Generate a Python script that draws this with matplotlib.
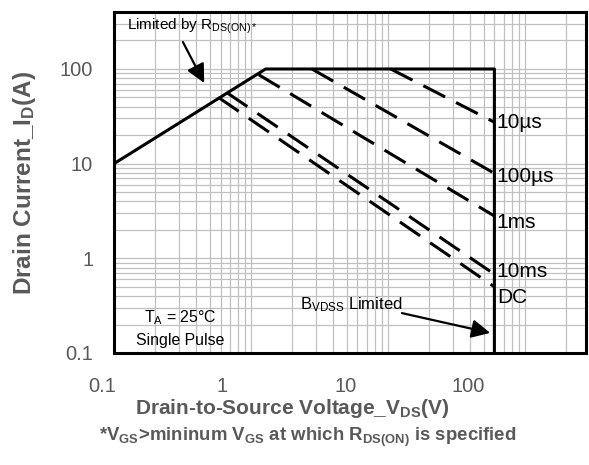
import numpy as np
import matplotlib as mpl
mpl.use("Agg")
import matplotlib.pyplot as plt
from matplotlib.ticker import FixedLocator, LogLocator, NullFormatter
from matplotlib.transforms import ScaledTranslation

mpl.rcParams.update({
    "font.family": ["Liberation Sans", "DejaVu Sans"],
    "mathtext.fontset": "custom",
    "mathtext.rm": "Liberation Sans",
    "mathtext.it": "Liberation Sans:italic",
    "mathtext.bf": "Liberation Sans:bold",
})

GRAY = "#595959"
GRID = "#c0c0c0"

# safe operating area boundary (V, A)
limit_v = [0.1, 1.28, 60, 60]
limit_i = [10, 100, 100, 0.1]

# pulse-width lines: start / end points
pulse_names = ["10µs", "100µs", "1ms", "10ms", "DC"]
pulse_v = [[10.5, 60], [2.79, 60], [1.14, 60], [0.67, 60], [0.58, 60]]
pulse_i = [[100, 27.4], [100, 7.9], [87, 2.8], [56, 0.68], [50, 0.5]]
label_i = [27.4, 7.3, 2.4, 0.72, 0.39]

x_ticks = [0.1, 1, 10, 100]
x_ticklabels = ["0.1", "1", "10", "100"]
y_ticks = [0.1, 1, 10, 100]
y_ticklabels = ["0.1", "1", "10", "100"]

fig = plt.figure(figsize=(5.89, 4.65), dpi=100)
ax = fig.add_axes([114 / 589, 1 - 353 / 465, 472 / 589, 341 / 465])
ax.set_xscale("log")
ax.set_yscale("log")
ax.set_xlim(0.1, 280)
ax.set_ylim(0.1, 400)

ax.xaxis.set_major_locator(FixedLocator(x_ticks))
ax.yaxis.set_major_locator(FixedLocator(y_ticks))
ax.xaxis.set_minor_locator(LogLocator(base=10, subs=np.arange(2, 10)))
ax.yaxis.set_minor_locator(LogLocator(base=10, subs=np.arange(2, 10)))
ax.xaxis.set_minor_formatter(NullFormatter())
ax.yaxis.set_minor_formatter(NullFormatter())
ax.set_xticklabels(x_ticklabels)
ax.set_yticklabels(y_ticklabels)
ax.tick_params(which="both", length=0, labelsize=14.5, labelcolor=GRAY)
ax.tick_params(axis="y", pad=15)
ax.tick_params(axis="x", pad=17)
ax.grid(True, which="both", color=GRID, linewidth=0.9)
ax.set_axisbelow(True)
for s in ax.spines.values():
    s.set_linewidth(2.2)
    s.set_color("black")

# x tick labels sit left of their gridlines in the original
shifts_px = [-12, -29, -42, -57]
for lab, dx in zip(ax.get_xticklabels(), shifts_px):
    lab.set_transform(lab.get_transform() + ScaledTranslation(dx / 100, 0, fig.dpi_scale_trans))

ax.plot(limit_v, limit_i, color="black", linewidth=2.2, solid_capstyle="butt", zorder=3)
for v, i in zip(pulse_v, pulse_i):
    ax.plot(v, i, color="black", linewidth=2.2, dashes=(8, 4),
            dash_capstyle="butt", zorder=3)

for name, li in zip(pulse_names, label_i):
    ax.text(62.5, li, name, fontsize=15, va="center", ha="left", zorder=4)

ax.text(0.0275, 0.958, r"Limited by R$_{\mathrm{DS(ON)*}}$", transform=ax.transAxes,
        fontsize=11, va="center", ha="left")
ax.annotate("", xy=(0.191, 0.792), xytext=(0.146, 0.912),
            xycoords="axes fraction", textcoords="axes fraction",
            arrowprops=dict(arrowstyle="-|>", color="black", lw=1.6, mutation_scale=28,
                            shrinkA=0, shrinkB=0))

ax.text(0.394, 0.141, r"B$_{\mathrm{VDSS}}$ Limited", transform=ax.transAxes,
        fontsize=12, va="center", ha="left")
ax.annotate("", xy=(0.797, 0.059), xytext=(0.610, 0.117),
            xycoords="axes fraction", textcoords="axes fraction",
            arrowprops=dict(arrowstyle="-|>", color="black", lw=1.6, mutation_scale=28,
                            shrinkA=0, shrinkB=0))

ax.text(0.14, 0.103, r"T$_{\mathrm{A}}$ = 25°C", transform=ax.transAxes,
        fontsize=11.4, va="center", ha="center")
ax.text(0.14, 0.038, "Single Pulse", transform=ax.transAxes,
        fontsize=11.4, va="center", ha="center")

ax.set_ylabel(r"Drain Current_I$_{\mathbf{D}}$(A)", fontsize=17.5, fontweight="bold", color=GRAY)
ax.yaxis.set_label_coords(-0.161, 0.5)
fig.text(292 / 589, 1 - 408 / 465, r"Drain-to-Source Voltage_V$_{\mathbf{DS}}$(V)",
         fontsize=15, fontweight="bold", color=GRAY, ha="center", va="center")
fig.text(308 / 589, 1 - 437 / 465,
         r"*V$_{\mathbf{GS}}$>mininum V$_{\mathbf{GS}}$ at which R$_{\mathbf{DS(ON)}}$ is specified",
         fontsize=13.4, fontweight="bold", color=GRAY, ha="center", va="center")

fig.savefig("out.png", dpi=100)
